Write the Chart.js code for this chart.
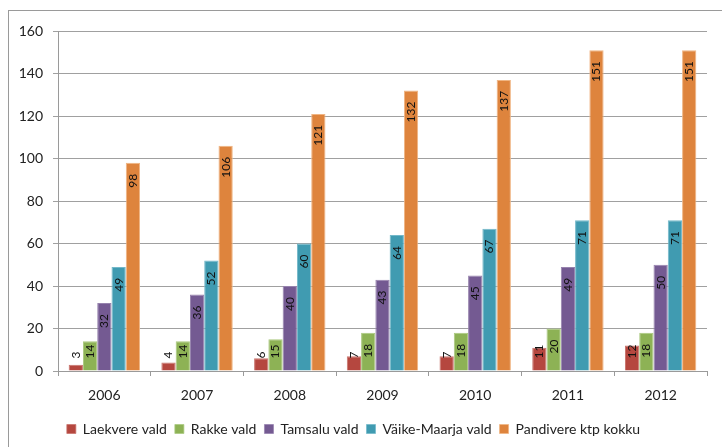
<!DOCTYPE html>
<html>
<head>
<meta charset="utf-8">
<script src="https://cdn.jsdelivr.net/npm/chart.js@4/dist/chart.umd.min.js"></script>
<style>
  html, body { margin: 0; padding: 0; background: #fff; }
  #wrap { width: 722px; height: 447px; }
</style>
</head>
<body>
<div id="wrap"><canvas id="chart" width="722" height="447"></canvas></div>
<script>
const years = ['2006', '2007', '2008', '2009', '2010', '2011', '2012'];
const laekvere = [3, 4, 6, 7, 7, 11, 12];
const rakke = [14, 14, 15, 18, 18, 20, 18];
const tamsalu = [32, 36, 40, 43, 45, 49, 50];
const vaikeMaarja = [49, 52, 60, 64, 67, 71, 71];
const pandivere = [98, 106, 121, 132, 137, 151, 151];

const FONT = 'Lato, "Open Sans", sans-serif';

// frame round the chart, only top and left are visible
const framePlugin = {
    id: 'frame',
    beforeDraw(chart) {
        const ctx = chart.ctx;
        ctx.save();
        ctx.fillStyle = '#fff';
        ctx.fillRect(0, 0, chart.width, chart.height);
        ctx.strokeStyle = '#9a9a9a';
        ctx.lineWidth = 1;
        ctx.strokeRect(8.5, 10.5, 900, 900);
        ctx.restore();
    }
};

// rotated value labels, inside end like in Excel
const valueLabels = {
    id: 'valueLabels',
    afterDatasetsDraw(chart) {
        const ctx = chart.ctx;
        ctx.save();
        ctx.font = '12px ' + FONT;
        ctx.fillStyle = '#111';
        ctx.textAlign = 'right';
        ctx.textBaseline = 'middle';
        chart.data.datasets.forEach((ds, i) => {
            const meta = chart.getDatasetMeta(i);
            meta.data.forEach((bar, j) => {
                const text = String(ds.data[j]);
                const len = ctx.measureText(text).width;
                let end = bar.y + 11;
                if (end + len > bar.base - 12) end = bar.base - 12 - len;
                ctx.save();
                ctx.translate(bar.x, end);
                ctx.rotate(-Math.PI / 2);
                ctx.fillText(text, 0, 0);
                ctx.restore();
            });
        });
        ctx.restore();
    }
};

new Chart(document.getElementById('chart'), {
    type: 'bar',
    data: {
        labels: years,
        datasets: [
            { label: 'Laekvere vald', data: laekvere, backgroundColor: '#B5473F', borderColor: '#c8736c' },
            { label: 'Rakke vald', data: rakke, backgroundColor: '#8DB255', borderColor: '#aac97f' },
            { label: 'Tamsalu vald', data: tamsalu, backgroundColor: '#745A92', borderColor: '#9682ad' },
            { label: 'Väike-Maarja vald', data: vaikeMaarja, backgroundColor: '#409BB1', borderColor: '#73b8c9' },
            { label: 'Pandivere ktp kokku', data: pandivere, backgroundColor: '#DE843D', borderColor: '#f0b583' }
        ]
    },
    options: {
        responsive: false,
        animation: false,
        devicePixelRatio: 1,
        datasets: {
            bar: { categoryPercentage: 0.77, barPercentage: 1.0, borderWidth: { top: 1, left: 1, right: 1, bottom: 0 } }
        },
        layout: { padding: { top: 31, right: 15, left: 0, bottom: 1 } },
        scales: {
            x: {
                grid: { drawOnChartArea: false, drawTicks: true, tickLength: 5, color: '#9a9a9a', offset: true },
                border: { color: '#9a9a9a' },
                ticks: { color: '#222', font: { family: FONT, size: 14 }, padding: 11 },
                afterFit(scale) { scale.height = 43; }
            },
            y: {
                min: 0,
                max: 160,
                ticks: { stepSize: 20, color: '#222', font: { family: FONT, size: 14 }, padding: 10 },
                grid: { color: '#a0a0a0', tickLength: 5 },
                border: { color: '#9a9a9a' },
                afterFit(scale) { scale.width = 58; }
            }
        },
        plugins: {
            legend: {
                position: 'bottom',
                labels: {
                    boxWidth: 9,
                    boxHeight: 9,
                    padding: 8,
                    color: '#222',
                    font: { family: FONT, size: 14 }
                }
            },
            tooltip: { enabled: false }
        }
    },
    plugins: [framePlugin, valueLabels]
});
</script>
</body>
</html>
